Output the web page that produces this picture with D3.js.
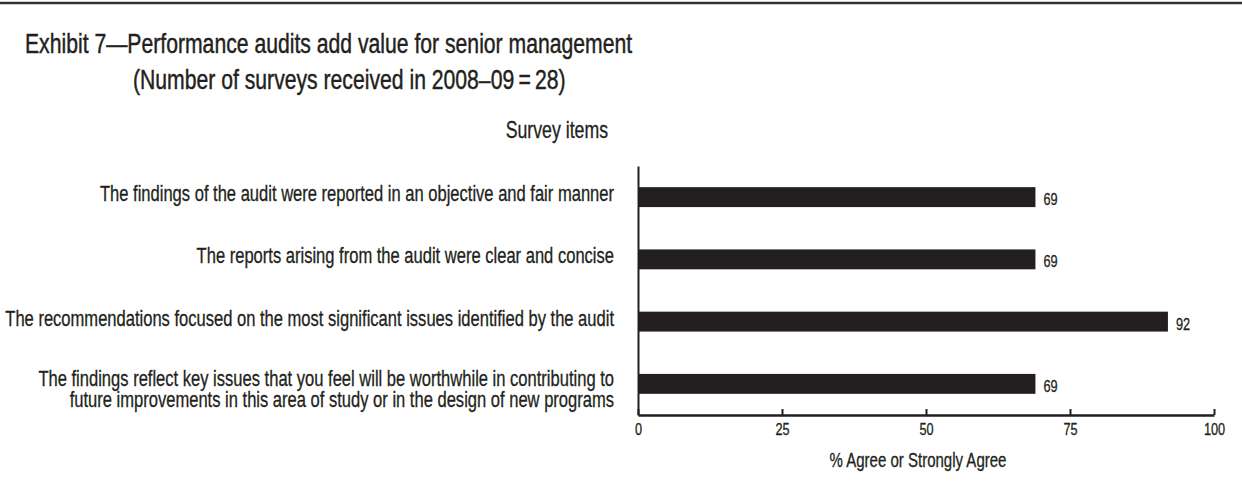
<!DOCTYPE html>
<html>
<head>
<meta charset="utf-8">
<script src="https://cdn.jsdelivr.net/npm/d3@7"></script>
<style>
  html, body { margin: 0; padding: 0; background: #fff; }
  svg { display: block; }
  text { font-family: "Liberation Sans", Arial, sans-serif; fill: #231f20; stroke: #231f20; stroke-width: 0.3px; }
  text.title { stroke-width: 0.45px; }
</style>
</head>
<body>
<svg id="chart" width="1242" height="498"></svg>
<script>
// Survey items (each entry holds the lines of its label)
const items = [
  ["The findings of the audit were reported in an objective and fair manner"],
  ["The reports arising from the audit were clear and concise"],
  ["The recommendations focused on the most significant issues identified by the audit"],
  ["The findings reflect key issues that you feel will be worthwhile in contributing to",
   "future improvements in this area of study or in the design of new programs"]
];
// Share of respondents who agree or strongly agree (%)
const agreePct = [69, 69, 92, 69];
const tickValues = [0, 25, 50, 75, 100];

const titleLines = [
  "Exhibit 7\u2014Performance audits add value for senior management",
  "(Number of surveys received in 2008\u201309\u2009=\u200928)"
];
const itemsHeading = "Survey items";
const xAxisTitle = "% Agree or Strongly Agree";

const ink = "#231f20";
// Horizontal squeeze giving the narrow, condensed letterforms
const condense = 0.77;

const svg = d3.select("#chart");

// Places a text at (x, y) with condensed glyphs, scaling about its anchor
function placeCondensed(sel, x, y) {
  sel.attr("x", 0).attr("y", 0)
    .attr("transform", (d, i) => {
      const px = typeof x === "function" ? x(d, i) : x;
      const py = typeof y === "function" ? y(d, i) : y;
      return `translate(${px},${py}) scale(${condense},1)`;
    });
}

// Rule across the top of the exhibit
svg.append("line")
  .attr("x1", 0).attr("x2", 1242)
  .attr("y1", 3).attr("y2", 3)
  .attr("stroke", "#333").attr("stroke-width", 2.5);

// Title block: first line flush left, second line indented
svg.append("g").selectAll("text")
  .data(titleLines)
  .join("text")
  .attr("class", "title")
  .attr("text-anchor", "start")
  .style("font-size", "27.5px")
  .text(d => d)
  .call(placeCondensed, (d, i) => (i === 0 ? 25 : 133), (d, i) => 53 + i * 36);

const margin = { left: 638, right: 1214, top: 166, bottom: 415 };

const x = d3.scaleLinear().domain([0, 100]).range([margin.left, margin.right]);
const y = d3.scaleBand()
  .domain(d3.range(items.length))
  .range([margin.top, margin.bottom])
  .paddingInner(0.68)
  .paddingOuter(0.34);

// Heading above the item labels
svg.append("text")
  .attr("text-anchor", "end")
  .style("font-size", "23px")
  .text(itemsHeading)
  .call(placeCondensed, 608, 138);

// Bars
svg.append("g").selectAll("rect")
  .data(agreePct)
  .join("rect")
  .attr("x", x(0))
  .attr("y", (d, i) => y(i))
  .attr("width", d => x(d) - x(0))
  .attr("height", y.bandwidth())
  .attr("fill", ink);

// Value labels
svg.append("g").selectAll("text")
  .data(agreePct)
  .join("text")
  .style("font-size", "16.5px")
  .text(d => d)
  .call(placeCondensed, d => x(d) + 8, (d, i) => y(i) + y.bandwidth() / 2 + 8);

// Item labels, right-aligned beside the vertical axis
const labelG = svg.append("g");
items.forEach((lines, i) => {
  const cy = y(i) + y.bandwidth() / 2;
  const firstBaseline = cy + (lines.length > 1 ? 2.5 : 4);
  const t = labelG.append("text")
    .attr("text-anchor", "end")
    .style("font-size", "21.5px")
    .attr("transform", `translate(614,${firstBaseline}) scale(${condense},1)`);
  lines.forEach((ln, j) => {
    t.append("tspan")
      .attr("x", 0)
      .attr("y", j * 20.5)
      .text(ln);
  });
});

// Vertical axis line
const yAxis = svg.append("g")
  .attr("transform", `translate(${margin.left},0)`)
  .call(d3.axisLeft(d3.scaleLinear().range([margin.top, margin.bottom])).ticks(0).tickSize(0));
yAxis.select(".domain").attr("stroke", ink).attr("stroke-width", 2);

// Horizontal axis with ticks pointing up
const xAxis = svg.append("g")
  .attr("transform", `translate(0,${margin.bottom})`)
  .call(d3.axisBottom(x).tickValues(tickValues).tickSizeInner(-6).tickSizeOuter(0).tickPadding(8));
xAxis.select(".domain").attr("stroke", ink).attr("stroke-width", 2.5);
xAxis.selectAll(".tick line").attr("stroke", ink).attr("stroke-width", 2);
xAxis.selectAll(".tick text")
  .style("font-size", "16.5px")
  .style("font-family", "\"Liberation Sans\", Arial, sans-serif")
  .attr("fill", ink)
  .attr("transform", `scale(${condense},1)`);

// Axis title
svg.append("text")
  .attr("text-anchor", "middle")
  .style("font-size", "19.5px")
  .text(xAxisTitle)
  .call(placeCondensed, 918, 467);
</script>
</body>
</html>
